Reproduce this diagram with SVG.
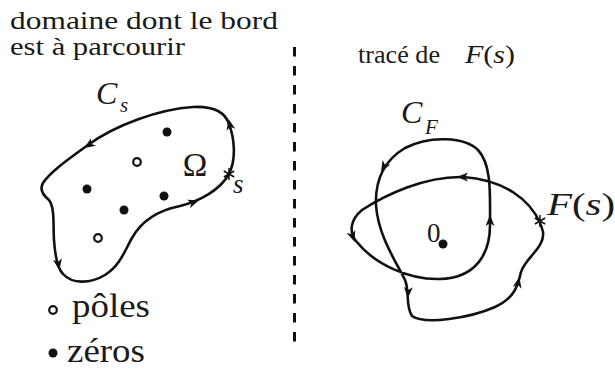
<svg xmlns="http://www.w3.org/2000/svg" width="615" height="369" viewBox="0 0 615 369">
<style>
text{font-family:'Liberation Serif','DejaVu Serif',serif;fill:#1a1a1a}
.m{font-style:italic}
.c{fill:none;stroke:#111;stroke-width:2.6;stroke-linejoin:round}
.star{fill:none;stroke:#111;stroke-width:1.5}
.dot{fill:#111}
.pole{fill:none;stroke:#111;stroke-width:2.2}
</style>
<defs>
<path id="ah" d="M2,0 L-9,-4.5 L-6,0 L-9,4.5 Z" fill="#111"/>
<path id="ast" d="M0,-6 V6 M-5.2,-3 L5.2,3 M-5.2,3 L5.2,-3" class="star"/>
</defs>
<rect width="615" height="369" fill="#fff"/>
<g id="texts">
<text x="10" y="29" font-size="25" textLength="268" lengthAdjust="spacingAndGlyphs">domaine dont le bord</text>
<text x="10" y="55" font-size="25" textLength="175" lengthAdjust="spacingAndGlyphs">est à parcourir</text>
<text x="358" y="63" font-size="25" textLength="82" lengthAdjust="spacingAndGlyphs">tracé de</text>
<text x="465" y="63" font-size="25" textLength="50" lengthAdjust="spacingAndGlyphs"><tspan class="m">F</tspan>(<tspan class="m">s</tspan>)</text>
</g>
<g id="separator">
<line x1="294.5" y1="47" x2="294.5" y2="343" stroke="#111" stroke-width="3" stroke-dasharray="9.5 9.5"/>
</g>
<g id="connectors">
<path class="c" d="M229,174 C236,160 235,140 229,124 C225,112 213,106 193,107 C160,109 115,125 88,145 C70,158 50,172 43,183 C39,190 44,196 49,200 C55,208 53,225 54,240 C55,255 57,268 63,274 C72,284 90,284 105,275 C120,266 125,250 132,238 C142,220 160,210 180,206 C200,201 220,190 229,174 Z"/>
<path class="c" d="M540,223 C530,200 505,180 463,177 C425,176 385,195 362,210 C350,220 349,232 356,241 C375,265 410,280 440,279 C475,278 490,255 490,225 C490,195 492,165 478,150 C465,137 430,135 405,148 C385,160 375,180 376,205 C378,235 395,260 405,280 C410,292 405,305 412,316 C425,325 470,318 495,307 C515,298 518,285 521,272 C525,258 545,248 543,232 C542,228 541,225 540,223 Z"/>
<use href="#ah" transform="translate(86,147) rotate(146)"/>
<use href="#ah" transform="translate(229,121) rotate(-102)"/>
<use href="#ah" transform="translate(197,201) rotate(-20)"/>
<use href="#ah" transform="translate(59,268) rotate(80)"/>
<use href="#ah" transform="translate(459,177) rotate(180)"/>
<use href="#ah" transform="translate(354,240) rotate(70)"/>
<use href="#ah" transform="translate(490,217) rotate(-90)"/>
<use href="#ah" transform="translate(382,170) rotate(120)"/>
<use href="#ah" transform="translate(408,296) rotate(92)"/>
<use href="#ah" transform="translate(519,279) rotate(-78)"/>
</g>
<g id="domain">
<circle class="dot" cx="167" cy="132" r="4.5"/>
<circle class="pole" cx="137" cy="162" r="3.8"/>
<circle class="dot" cx="87" cy="189" r="4.5"/>
<circle class="dot" cx="164" cy="196" r="4.5"/>
<circle class="dot" cx="124" cy="210" r="4.5"/>
<circle class="pole" cx="98" cy="238" r="3.8"/>
<text class="m" x="96" y="104" font-size="32">C</text>
<text class="m" x="120" y="112" font-size="21">s</text>
<text x="195" y="176" font-size="33" text-anchor="middle">Ω</text>
</g>
<g id="point-s">
<use href="#ast" transform="translate(229,174)"/>
<text class="m" x="233" y="193" font-size="27">s</text>
</g>
<g id="trace">
<text class="m" x="401" y="123" font-size="32">C</text>
<text class="m" x="425" y="134" font-size="21">F</text>
<text font-family="'Liberation Sans',sans-serif" x="427" y="242" font-size="27">0</text>
<circle class="dot" cx="443" cy="244" r="4.5"/>
</g>
<g id="point-Fs">
<use href="#ast" transform="translate(540,221)"/>
<text x="547" y="215" font-size="31" textLength="68" lengthAdjust="spacingAndGlyphs"><tspan class="m">F</tspan>(<tspan class="m">s</tspan>)</text>
</g>
<g id="legend">
<circle class="pole" cx="53" cy="310" r="3.8"/>
<text x="72" y="317" font-size="34" textLength="78" lengthAdjust="spacingAndGlyphs">pôles</text>
<circle class="dot" cx="53" cy="353" r="4.5"/>
<text x="67" y="362" font-size="34" textLength="78" lengthAdjust="spacingAndGlyphs">zéros</text>
</g>
</svg>
